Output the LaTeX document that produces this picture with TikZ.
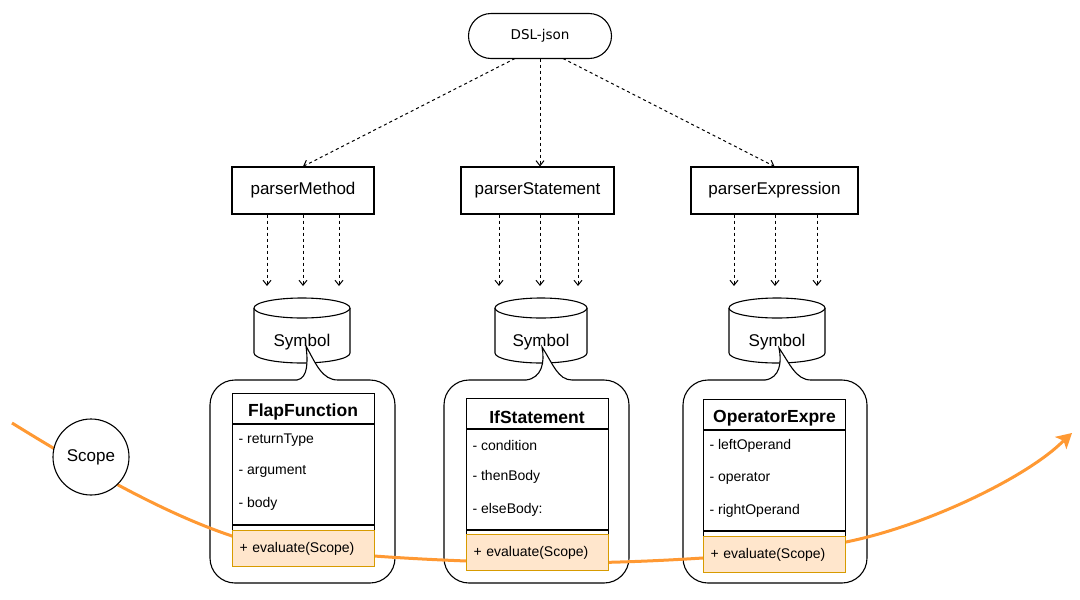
\documentclass[tikz,border=0pt]{standalone}
\usepackage{fontspec}
\setmainfont{Liberation Sans}
\newfontfamily\dejavu{DejaVu Sans}
\usetikzlibrary{arrows.meta,calc}
\definecolor{orangeline}{RGB}{255,153,51}
\definecolor{methfill}{RGB}{255,230,204}
\definecolor{methdraw}{RGB}{215,155,0}
\begin{document}
\begin{tikzpicture}[x=1pt,y=-1pt,line width=1.1pt,
  font=\fontsize{17}{20}\selectfont,
  plainbox/.style={draw,fill=white,inner sep=0pt},
  dasharrow/.style={dash pattern=on 3pt off 3pt,line width=1pt,-{Straight Barb[length=5pt,width=8pt,line width=1pt]}},
  classbox/.style={draw,fill=white,inner sep=0pt,anchor=north west,minimum width=142pt},
  methbox/.style={draw=methdraw,fill=methfill,anchor=north west,inner xsep=7pt,inner ysep=0pt,text width=128pt,align=left,minimum height=36pt,font=\fontsize{14}{17}\selectfont},
  attr/.style={anchor=west,inner sep=0pt,font=\fontsize{14}{17}\selectfont},
  head/.style={inner sep=0pt,font=\bfseries\fontsize{17.5}{20}\selectfont},
  symtext/.style={inner sep=0pt,font=\fontsize{17}{20}\selectfont},
  scopeline/.style={draw=orangeline,line width=3pt}]
\useasboundingbox (0,0) rectangle (1080,600);

% top node
\node[draw,rounded corners=22.5pt,minimum width=143pt,minimum height=45pt,inner sep=0pt,
  font=\dejavu\fontsize{13.5}{16}\selectfont] (dsl) at (540,36) {DSL-json};

% parser boxes
\node[plainbox,minimum width=142pt,minimum height=47pt] (pm) at (303,190.5) {parserMethod};
\node[plainbox,minimum width=153pt,minimum height=47pt] (ps) at (537.5,190.5) {parserStatement};
\node[plainbox,minimum width=167pt,minimum height=47pt] (pe) at (774.5,190.5) {parserExpression};

\coordinate (dl) at (515,58.5);
\coordinate (dm) at (540,58.5);
\coordinate (dr) at (563,58.5);
\draw[dasharrow] (dl) -- (pm.north);
\draw[dasharrow] (dm) -- (dm |- ps.north);
\draw[dasharrow] (dr) -- (pe.north);

% arrow ends above cylinders
\coordinate (t11) at (267,286); \coordinate (t12) at (303,286); \coordinate (t13) at (339,286);
\coordinate (t21) at (499,286); \coordinate (t22) at (540,286); \coordinate (t23) at (578,286);
\coordinate (t31) at (734,286); \coordinate (t32) at (775,286); \coordinate (t33) at (817,286);
\foreach \p/\t in {pm/t11,pm/t12,pm/t13,ps/t21,ps/t22,ps/t23,pe/t31,pe/t32,pe/t33}
  \draw[dasharrow] (\p.south -| \t) -- (\t);

% cylinders
\draw[fill=white] (254,308) -- (254,353) arc[start angle=180,end angle=0,x radius=48,y radius=10] -- (350,308);
\draw[fill=white] (302,308) ellipse[x radius=48,y radius=10];
\node[symtext] (sym1) at (302,342) {Symbol};
\draw[fill=white] (495,308) -- (495,353) arc[start angle=180,end angle=0,x radius=46,y radius=10] -- (587,308);
\draw[fill=white] (541,308) ellipse[x radius=46,y radius=10];
\node[symtext] (sym2) at (541,342) {Symbol};
\draw[fill=white] (729,308) -- (729,353) arc[start angle=180,end angle=0,x radius=48,y radius=10] -- (825,308);
\draw[fill=white] (777,308) ellipse[x radius=48,y radius=10];
\node[symtext] (sym3) at (777,342) {Symbol};

% containers with tails
\coordinate (tip1) at (306,346);
\coordinate (tip2) at (542,347);
\coordinate (tip3) at (779,348);
\draw[fill=white] (297,380) .. controls (308,378) and (308,362) .. (tip1) .. controls (316,364) and (322,380) .. (338,380);
\draw[rounded corners=25pt] (338,380) -- (395,380) -- (395,583) -- (210,583) -- (210,380) -- (297,380);
\draw[fill=white] (526,380) .. controls (542,378) and (545,362) .. (tip2) .. controls (553,364) and (558,380) .. (572,380);
\draw[rounded corners=25pt] (572,380) -- (629,380) -- (629,583) -- (444,583) -- (444,380) -- (526,380);
\draw[fill=white] (765,380) .. controls (780,378) and (782,362) .. (tip3) .. controls (790,364) and (796,380) .. (811,380);
\draw[rounded corners=25pt] (811,380) -- (867,380) -- (867,583) -- (683,583) -- (683,380) -- (765,380);

% orange scope line
\coordinate (ostart) at (12,423);
\coordinate (oinset) at (1063.5,440.7);
\coordinate (otip) at (1072,433);
\draw[scopeline]
  (ostart) .. controls (80,465) and (160,512) .. (232,536)
  .. controls (292,556) and (480,563) .. (560,563)
  .. controls (650,563) and (780,555) .. (846,542)
  .. controls (930,525) and (1030,475) .. (oinset);
\fill[orangeline] (otip) -- (1066.4,449.4) -- (oinset) -- (1054.8,436.9) -- cycle;

% class box 1
\node[classbox,minimum height=137pt] (c1) at (232,393) {};
\draw (c1.north west |- 0,424) -- (c1.north east |- 0,424);
\draw (c1.north west |- 0,525) -- (c1.north east |- 0,525);
\node[head] (h1) at (303,412) {FlapFunction};
\node[attr] (a11) at (238,440) {- returnType};
\node[attr] (a12) at (238,471) {- argument};
\node[attr] (a13) at (238,504) {- body};
\node[methbox] (m1) at (232,530) {+ evaluate(Scope)};

% class box 2
\node[classbox,minimum height=136pt] (c2) at (466,398) {};
\draw (c2.north west |- 0,429) -- (c2.north east |- 0,429);
\draw (c2.north west |- 0,530) -- (c2.north east |- 0,530);
\node[head] (h2) at (537,417) {IfStatement};
\node[attr] (a21) at (472,445) {- condition};
\node[attr] (a22) at (472,477) {- thenBody};
\node[attr] (a23) at (472,510) {- elseBody:};
\node[methbox] (m2) at (466,534) {+ evaluate(Scope)};

% class box 3
\node[classbox,minimum height=137pt] (c3) at (703,399) {};
\draw (c3.north west |- 0,430) -- (c3.north east |- 0,430);
\draw (c3.north west |- 0,531) -- (c3.north east |- 0,531);
\node[head] (h3) at (774.5,418) {OperatorExpre};
\node[attr] (a31) at (709,446) {- leftOperand};
\node[attr] (a32) at (709,478) {- operator};
\node[attr] (a33) at (709,511) {- rightOperand};
\node[methbox] (m3) at (703,536) {+ evaluate(Scope)};

% scope circle
\node[draw,circle,fill=white,minimum size=76pt,inner sep=0pt] (scope) at (91,457) {Scope};
\end{tikzpicture}
\end{document}
